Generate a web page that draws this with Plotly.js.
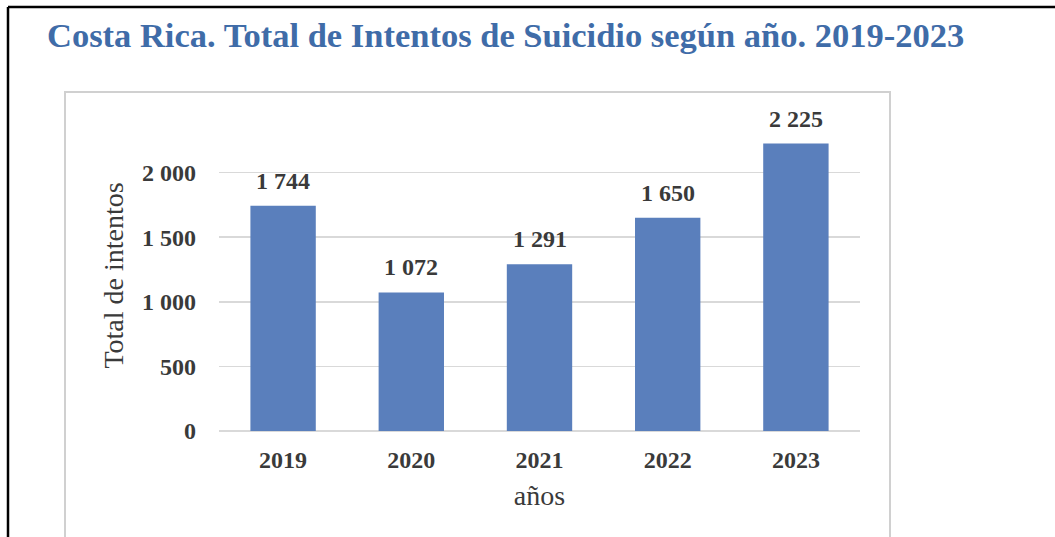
<!DOCTYPE html>
<html>
<head>
<meta charset="utf-8">
<script src="https://cdn.plot.ly/plotly-3.0.1.min.js"></script>
<style>
  html, body { margin: 0; padding: 0; background: #ffffff; }
  #chart { width: 1055px; height: 537px; }
</style>
</head>
<body>
<div id="chart"></div>
<script>
// Data
const years = ["2019", "2020", "2021", "2022", "2023"];
const attempts = [1744, 1072, 1291, 1650, 2225];
const valueLabels = ["1 744", "1 072", "1 291", "1 650", "2 225"];
const yTickVals = [0, 500, 1000, 1500, 2000];
const yTickText = ["0", "500", "1 000", "1 500", "2 000"];

const serif = "Liberation Serif, Times New Roman, serif";
const textColor = "#3a3a3a";
const barColor = "#5a7fbc";

const trace = {
  type: "bar",
  x: years,
  y: attempts,
  marker: { color: barColor, line: { width: 0 } },
  hoverinfo: "x+y"
};

// category axis: annotation x uses the category index
const annotations = years.map((yr, i) => ({
  x: i,
  y: attempts[i],
  xref: "x",
  yref: "y",
  text: valueLabels[i],
  showarrow: false,
  yanchor: "bottom",
  yshift: 10,
  font: { family: serif, size: 24, color: textColor, weight: "bold" }
}));

const layout = {
  width: 1055,
  height: 537,
  paper_bgcolor: "#ffffff",
  plot_bgcolor: "#ffffff",
  margin: { l: 219, r: 195, t: 120, b: 106, pad: 0 },
  showlegend: false,
  bargap: 0.49,
  title: {
    text: "Costa Rica. Total de Intentos de Suicidio según año. 2019-2023",
    font: { family: serif, size: 34.5, color: "#3f6ca8", weight: "bold" },
    x: 47 / 1055,
    xanchor: "left",
    xref: "container",
    y: 1 - 35 / 537,
    yanchor: "middle",
    yref: "container"
  },
  xaxis: {
    type: "category",
    categoryorder: "array",
    categoryarray: years,
    range: [-0.5, years.length - 0.5],
    showgrid: false,
    showline: false,
    zeroline: false,
    ticks: "",
    tickfont: { family: serif, size: 24, color: textColor, weight: "bold" },
    ticklabelstandoff: 12,
    fixedrange: true,
    title: {
      text: "años",
      font: { family: serif, size: 28, color: textColor },
      standoff: 13
    }
  },
  yaxis: {
    range: [0, 2407],
    tickvals: yTickVals,
    ticktext: yTickText,
    showgrid: true,
    gridcolor: "#d9d9d9",
    gridwidth: 1.5,
    zeroline: true,
    zerolinecolor: "#d9d9d9",
    zerolinewidth: 1.5,
    showline: false,
    ticks: "",
    ticklabelstandoff: 22,
    tickfont: { family: serif, size: 24, color: textColor, weight: "bold" },
    fixedrange: true,
    title: {
      text: "Total de intentos",
      font: { family: serif, size: 28, color: textColor },
      standoff: 10
    }
  },
  annotations: annotations,
  shapes: [
    {
      type: "rect",
      xref: "paper", yref: "paper",
      x0: (65 - 219) / 641, x1: (890 - 219) / 641,
      y0: (431 - 560) / 311, y1: (431 - 92) / 311,
      line: { color: "#d0d0d0", width: 2 },
      fillcolor: "rgba(0,0,0,0)",
      layer: "below"
    },
    {
      type: "line",
      xref: "paper", yref: "paper",
      x0: (8 - 219) / 641, x1: (1060 - 219) / 641,
      y0: (431 - 7) / 311, y1: (431 - 7) / 311,
      line: { color: "#000000", width: 2.5 }
    },
    {
      type: "line",
      xref: "paper", yref: "paper",
      x0: (8 - 219) / 641, x1: (8 - 219) / 641,
      y0: (431 - 7) / 311, y1: (431 - 560) / 311,
      line: { color: "#000000", width: 2.5 }
    }
  ]
};

Plotly.newPlot("chart", [trace], layout, { displayModeBar: false, staticPlot: true });
</script>
</body>
</html>
